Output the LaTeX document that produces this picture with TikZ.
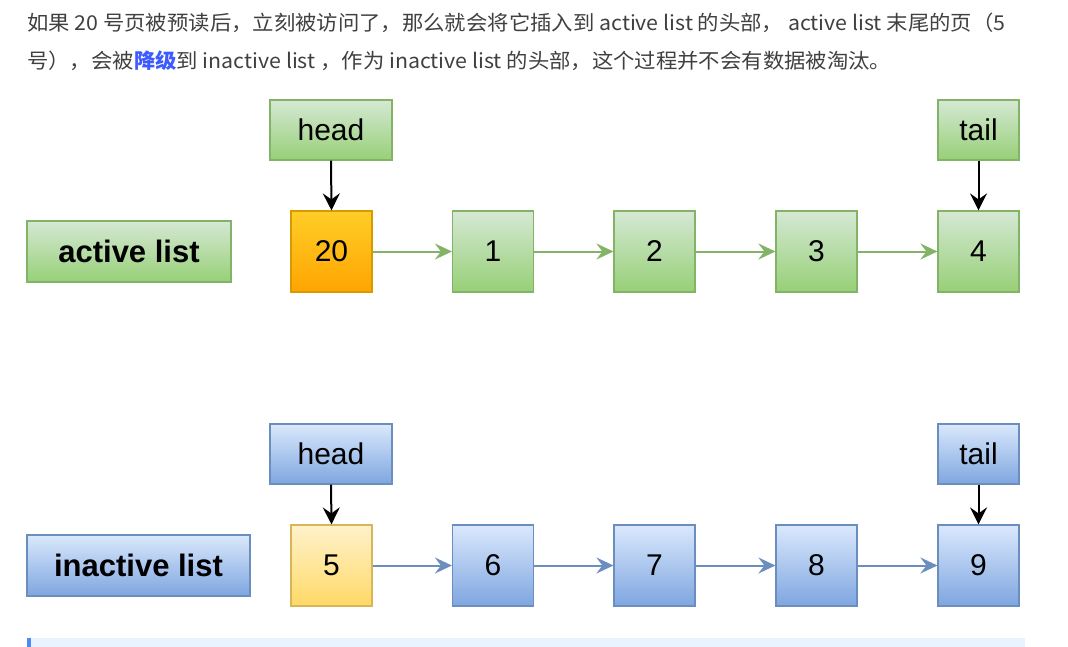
\documentclass[tikz,border=0pt]{standalone}
\usepackage{fontspec}
\setmainfont{Liberation Sans}
\newfontfamily\cjk{Noto Sans CJK SC}
\usetikzlibrary{arrows.meta}
\definecolor{txtgray}{HTML}{404040}
\definecolor{hlblue}{HTML}{3D5AFE}
\definecolor{gtop}{HTML}{D5E8D4}
\definecolor{gbot}{HTML}{97D077}
\definecolor{gline}{HTML}{82B366}
\definecolor{btop}{HTML}{DAE8FC}
\definecolor{bbot}{HTML}{7EA6E0}
\definecolor{bline}{HTML}{6C8EBF}
\definecolor{otop}{HTML}{FFCD28}
\definecolor{obot}{HTML}{FFA500}
\definecolor{oline}{HTML}{D79B00}
\definecolor{ytop}{HTML}{FFF2CC}
\definecolor{ybot}{HTML}{FFD966}
\definecolor{yline}{HTML}{D6B656}
\definecolor{barbg}{HTML}{E8F3FF}
\definecolor{barleft}{HTML}{4C8BF5}
\tikzset{
  box/.style={draw, line width=1.2pt, inner sep=0pt, font=\fontsize{30}{32}\selectfont},
  greenbox/.style={box, top color=gtop, bottom color=gbot, draw=gline},
  bluebox/.style={box, top color=btop, bottom color=bbot, draw=bline},
  orangebox/.style={box, top color=otop, bottom color=obot, draw=oline},
  yellowbox/.style={box, top color=ytop, bottom color=ybot, draw=yline},
  ptrbox/.style={minimum width=122pt, minimum height=60pt},
  tailbox/.style={minimum width=81pt, minimum height=60pt},
  cellbox/.style={minimum width=81pt, minimum height=81pt},
  ptrarrow/.style={-{Stealth[length=17pt,width=17pt,inset=6pt]}, line width=2pt, black},
  garrow/.style={-{Stealth[length=17pt,width=16pt,inset=6pt]}, line width=2pt, gline},
  barrow/.style={-{Stealth[length=17pt,width=16pt,inset=6pt]}, line width=2pt, bline},
  para/.style={anchor=base west, inner sep=0pt, text=txtgray, font=\cjk\fontsize{20.5}{24}\selectfont}
}
\begin{document}
\begin{tikzpicture}[x=1pt,y=-1pt]
\useasboundingbox (0,0) rectangle (1068,647);
\fill[white] (0,0) rectangle (1068,647);
% paragraph
\node[para, xscale=1.042] (l1) at (27,31) {如果 20 号页被预读后，立刻被访问了，那么就会将它插入到 active list 的头部， active list 末尾的页（5};
\node[para, xscale=1.042] (l2) at (27,69) {号），会被{\color{hlblue}\bfseries 降级}到 inactive list ，作为 inactive list 的头部，这个过程并不会有数据被淘汰。};
% active list
\node[greenbox, minimum width=204pt, minimum height=61pt, font=\bfseries\fontsize{31}{33}\selectfont] (al) at (129,251.5) {active list};
\node[greenbox, ptrbox] (ah) at (331,130) {head};
\node[greenbox, tailbox] (at) at (978.5,130) {tail};
\node[orangebox, cellbox] (a20) at (331.5,251.5) {20};
\node[greenbox, cellbox] (a1) at (493,251.5) {1};
\node[greenbox, cellbox] (a2) at (654.5,251.5) {2};
\node[greenbox, cellbox] (a3) at (816.5,251.5) {3};
\node[greenbox, cellbox] (a4) at (978.5,251.5) {4};
\draw[ptrarrow] (ah.south) -- (a20.north);
\draw[ptrarrow] (at.south) -- (a4.north);
\draw[garrow] (a20) -- (a1);
\draw[garrow] (a1) -- (a2);
\draw[garrow] (a2) -- (a3);
\draw[garrow] (a3) -- (a4);
% inactive list
\node[bluebox, minimum width=223pt, minimum height=61pt, font=\bfseries\fontsize{31}{33}\selectfont] (il) at (138.5,565.5) {inactive list};
\node[bluebox, ptrbox] (ih) at (331,454) {head};
\node[bluebox, tailbox] (it) at (978.5,454) {tail};
\node[yellowbox, cellbox] (i5) at (331.5,565.5) {5};
\node[bluebox, cellbox] (i6) at (493,565.5) {6};
\node[bluebox, cellbox] (i7) at (654.5,565.5) {7};
\node[bluebox, cellbox] (i8) at (816.5,565.5) {8};
\node[bluebox, cellbox] (i9) at (978.5,565.5) {9};
\draw[ptrarrow] (ih.south) -- (i5.north);
\draw[ptrarrow] (it.south) -- (i9.north);
\draw[barrow] (i5) -- (i6);
\draw[barrow] (i6) -- (i7);
\draw[barrow] (i7) -- (i8);
\draw[barrow] (i8) -- (i9);
% bottom strip
\fill[barbg] (27,638) rectangle (1025,647);
\fill[barleft] (27,638) rectangle (31,647);
\end{tikzpicture}
\end{document}
